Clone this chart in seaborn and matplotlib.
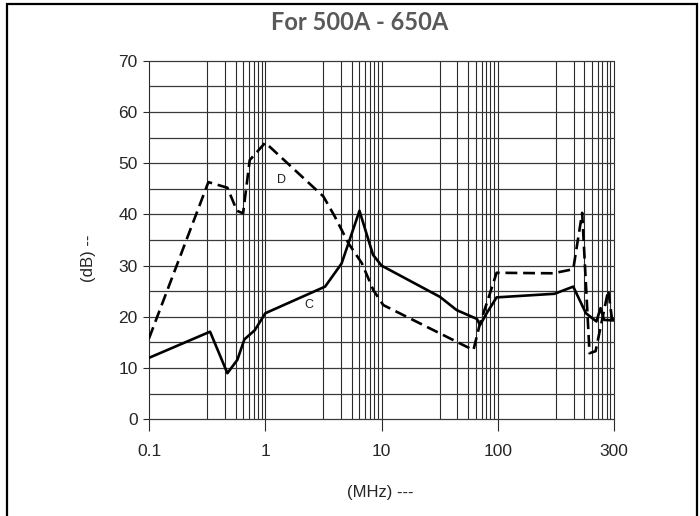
import numpy as np
import pandas as pd
import matplotlib
matplotlib.use('Agg')
import matplotlib.pyplot as plt
import seaborn as sns
from matplotlib.patches import Rectangle

sns.set_style('white')
plt.rcParams['font.family'] = ['Liberation Sans', 'DejaVu Sans']

# 곡선 데이터 (MHz, dB) - 그림에서 읽은 값
c_freq = [0.1, 0.335, 0.472, 0.575, 0.661, 0.813, 1.0, 3.27, 4.53, 6.46, 8.45, 10.0,
          31.8, 44.4, 66.1, 70.3, 80.2, 97.7, 171, 204, 230, 254, 264, 273, 300]
c_db = [12.0, 17.1, 9.0, 11.6, 15.6, 17.4, 20.7, 25.9, 30.4, 40.7, 32.1, 30.0,
        23.9, 21.3, 19.6, 18.4, 20.7, 23.8, 24.5, 25.9, 20.7, 19.1, 21.7, 19.4, 19.3]

d_freq = [0.1, 0.324, 0.472, 0.571, 0.644, 0.735, 1.0, 3.16, 3.98, 5.18, 6.76, 8.51,
          10.35, 61.7, 70.3, 80.2, 97.7, 169, 204, 222, 238, 252, 284, 294, 300]
d_db = [15.8, 46.3, 45.2, 40.7, 40.2, 50.6, 54.0, 43.5, 39.5, 34.4, 30.5, 25.2,
        22.3, 13.5, 18.7, 22.6, 28.6, 28.5, 29.3, 40.3, 12.9, 13.3, 25.2, 19.7, 19.4]

x_ticks = [0.1, 1, 10, 100, 300]
x_ticklabels = ['0.1', '1', '10', '100', '300']
y_ticks = list(range(0, 71, 10))

df_c = pd.DataFrame({'freq': c_freq, 'db': c_db})
df_d = pd.DataFrame({'freq': d_freq, 'db': d_db})


# x축: 0.1~100은 로그, 100~300은 한 decade 폭으로 늘림
def fwd(x):
    x = np.asarray(x, dtype=float)
    with np.errstate(divide='ignore', invalid='ignore'):
        lx = np.log10(x)
    return np.where(lx <= 2, lx, 2 + (lx - 2) / np.log10(3))


def inv(u):
    u = np.asarray(u, dtype=float)
    return np.where(u <= 2, 10.0 ** u, 100 * 3.0 ** (u - 2))


fig = plt.figure(figsize=(7, 5.16), dpi=100)
ax = fig.add_axes([0.2129, 0.1874, 0.6643, 0.695])
ax.set_xscale('function', functions=(fwd, inv))
ax.set_xlim(0.1, 300)
ax.set_ylim(0, 70)

grid_col = '#2a2a2a'
# 세로 격자 (각 decade 안의 보조선)
offsets = [0, 0.50, 0.653, 0.745, 0.81, 0.86, 0.90, 0.937, 0.968]
for start in [-1, 0, 1, 2]:
    for off in offsets:
        ax.axvline(float(inv(start + off)), color=grid_col, lw=0.8, zorder=1, clip_on=False)
ax.axvline(300, color=grid_col, lw=0.8, zorder=1, clip_on=False)
# 가로 격자 5 dB 간격
for yv in range(0, 71, 5):
    ax.axhline(yv, color='#3a3a3a', lw=0.9, zorder=1, clip_on=False)

sns.lineplot(data=df_c, x='freq', y='db', ax=ax, color='black', lw=1.9,
             estimator=None, sort=False, zorder=3)
sns.lineplot(data=df_d, x='freq', y='db', ax=ax, color='black', lw=1.9,
             estimator=None, sort=False, zorder=3, linestyle=(0, (4.5, 2.2)))

ax.text(1.39, 46.7, 'D', fontsize=9, color='#222222', ha='center', va='center')
ax.text(2.38, 22.3, 'C', fontsize=9, color='#222222', ha='center', va='center')

for s in ax.spines.values():
    s.set_visible(False)

ax.set_xticks(x_ticks)
ax.set_xticklabels(x_ticklabels)
ax.xaxis.set_minor_locator(matplotlib.ticker.NullLocator())
ax.set_yticks(y_ticks)
ax.tick_params(axis='x', length=8.6, width=0.8, color=grid_col, labelsize=12.5, pad=9, bottom=True)
ax.tick_params(axis='y', length=4.3, width=0.8, color=grid_col, labelsize=12.5, pad=4, left=True)
ax.set_xlabel('')
ax.set_ylabel('')

fig.text(380 / 700, 1 - 493 / 516, '(MHz) ---', fontsize=12, ha='center', va='center')
fig.text(88 / 700, 1 - 258 / 516, '(dB) --', fontsize=12, ha='center', va='center', rotation=90)
fig.text(360 / 700, 1 - 22 / 516, 'For 500A - 650A', fontsize=17, fontweight='bold',
         color='#595959', ha='center', va='center', family=['Lato', 'DejaVu Sans'])

# 바깥 테두리
fig.patches.append(Rectangle((6.5 / 700, -0.1), (697 - 6.5) / 700, 1.1 - 3.5 / 516,
                             transform=fig.transFigure, fill=False, ec='black', lw=1.6))

fig.savefig('out.png', dpi=100)
